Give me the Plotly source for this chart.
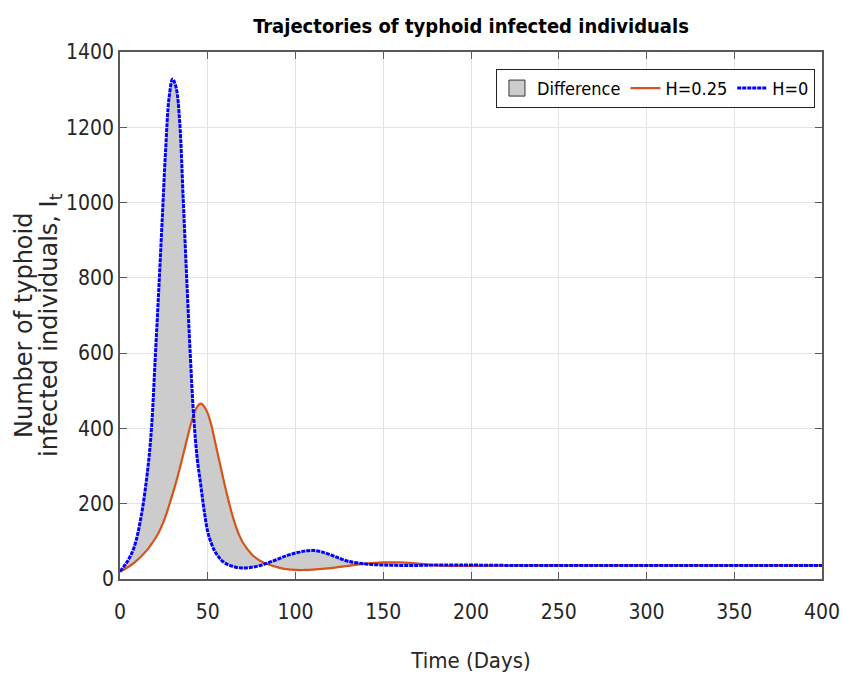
import plotly.graph_objects as go

# ---- data ----
t = [0, 4, 8, 12, 16, 18, 20, 22, 24, 26, 28, 30, 32, 34, 36, 38, 40, 42, 44,
     46, 48, 50, 52, 54, 56, 58, 60, 62, 64, 66, 68, 70, 75, 80, 85, 90, 95, 100,
     105, 110, 115, 120, 125, 130, 140, 150, 160, 170, 180, 190, 200, 225, 250,
     275, 300, 325, 350, 375, 400]

infected_h0 = [20, 45, 84, 165, 300, 405, 580, 760, 950, 1140, 1280, 1328, 1305,
               1215, 1010, 800, 600, 430, 320, 250, 180, 125, 95, 74, 60, 49, 42,
               37, 34, 31, 30, 29, 31, 36, 44, 53, 62, 69, 74, 76, 72, 64, 55, 47,
               40, 37, 36, 36, 37, 37, 37, 36, 36, 36, 36, 36, 36, 36, 36]

infected_h025 = [20, 30, 43, 60, 80, 93, 107, 123, 143, 167, 196, 226, 258, 293,
                 330, 368, 405, 436, 458, 466, 458, 440, 410, 368, 326, 284, 243,
                 205, 170, 140, 116, 97, 66, 48, 38, 31, 26, 24, 24, 25, 27, 29,
                 32, 35, 41, 44, 44, 41, 36, 35, 35, 36, 36, 36, 36, 36, 36, 36, 36]

x_ticks = [0, 50, 100, 150, 200, 250, 300, 350, 400]
y_ticks = [0, 200, 400, 600, 800, 1000, 1200, 1400]

title_text = "Trajectories of typhoid infected individuals"
x_label = "Time (Days)"
y_label_1 = "Number of typhoid"
y_label_2 = "infected individuals, I<sub>t</sub>"

NARROW = "DejaVu Sans Condensed, Liberation Sans Narrow, Arial Narrow, sans-serif"
ORANGE = "#D95319"
TXT = "#262626"

fig = go.Figure()

# base curve for the fill (no visible line)
fig.add_trace(go.Scatter(x=t, y=infected_h025, mode="lines",
                         line=dict(width=0, shape="spline", color=ORANGE),
                         showlegend=False, hoverinfo="skip"))
# difference region between the two trajectories
fig.add_trace(go.Scatter(x=t, y=infected_h0, mode="lines", name="Difference",
                         fill="tonexty", fillcolor="#cccccc",
                         line=dict(width=0, shape="spline", color="#cccccc"),
                         showlegend=False, legendgroup="diff"))
# legend swatch for the difference
fig.add_trace(go.Scatter(x=[None], y=[None], mode="markers", name="Difference",
                         legendgroup="diff",
                         marker=dict(symbol="square", size=16, color="#cccccc",
                                     line=dict(color="#333333", width=1))))
# H=0.25
fig.add_trace(go.Scatter(x=t, y=infected_h025, mode="lines", name="H=0.25",
                         line=dict(width=2.2, shape="spline", color=ORANGE)))
# H=0
fig.add_trace(go.Scatter(x=t, y=infected_h0, mode="lines", name="H=0",
                         line=dict(width=3, shape="spline", color="#0000ff",
                                   dash="4px,1px")))

axis_common = dict(
    showgrid=True, gridcolor="#e3e3e3", gridwidth=1,
    showline=True, linecolor="#5a5a5a", linewidth=1.5, mirror="ticks",
    ticks="inside", ticklen=7, tickcolor="#5a5a5a", tickwidth=1.2,
    zeroline=False, automargin=False,
    tickfont=dict(family=NARROW, size=21, color=TXT),
)

fig.update_layout(
    width=843, height=680,
    paper_bgcolor="white", plot_bgcolor="white",
    margin=dict(l=120, r=21, t=52, b=101),
    title=dict(text="<b>" + title_text + "</b>", x=0.5, xref="paper",
               xanchor="center", y=1 - 26 / 680, yref="container",
               yanchor="middle",
               font=dict(family=NARROW, size=20, color="black")),
    xaxis=dict(range=[0, 400], tickvals=x_ticks, ticklabelstandoff=13,
               title=dict(text=x_label, standoff=30,
                          font=dict(family=NARROW, size=22, color=TXT)),
               **axis_common),
    yaxis=dict(range=[0, 1400], tickvals=y_ticks, **axis_common),
    legend=dict(orientation="h", x=0.99, xanchor="right", y=0.968,
                yanchor="top", bgcolor="white", bordercolor="#222222",
                borderwidth=1, traceorder="normal",
                font=dict(family=NARROW, size=18, color="black"),
                itemwidth=30),
    showlegend=True,
)

fig.add_annotation(text=y_label_1, xref="paper", yref="paper",
                   x=(24 - 120) / 702, y=0.482, xanchor="center", yanchor="middle",
                   textangle=-90, showarrow=False,
                   font=dict(family="DejaVu Sans, Liberation Sans, sans-serif",
                             size=24, color=TXT))
fig.add_annotation(text=y_label_2, xref="paper", yref="paper",
                   x=(51 - 120) / 702, y=0.482, xanchor="center", yanchor="middle",
                   textangle=-90, showarrow=False,
                   font=dict(family="DejaVu Sans, Liberation Sans, sans-serif",
                             size=24, color=TXT))

fig.write_html("out.html")
